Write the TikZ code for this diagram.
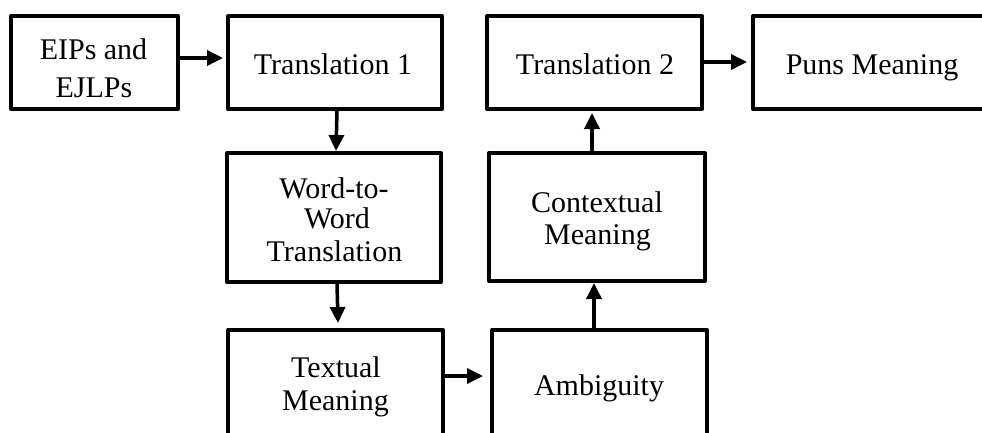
\documentclass[tikz,border=0pt]{standalone}
\usepackage{fontspec}
\setmainfont{Liberation Serif}
\usetikzlibrary{arrows.meta,calc}
\begin{document}
\begin{tikzpicture}[x=1pt,y=-1pt,
  box/.style={draw=black, line width=4pt, line join=round, fill=white, inner sep=0pt},
  lbl/.style={anchor=base, inner sep=0pt, font=\fontsize{30}{36}\selectfont},
  arr/.style={line width=3.5pt, -{Triangle[length=16pt,width=15pt]}}]
\useasboundingbox (0,0) rectangle (982,432);
\clip (0,0) rectangle (982,432);
% boxes
\node[box, minimum width=167pt, minimum height=93pt] (b1) at (94.5,62.5) {};
\node[box, minimum width=214pt, minimum height=93pt] (b2) at (335,62.5) {};
\node[box, minimum width=215pt, minimum height=93pt] (b3) at (594.5,62.5) {};
\node[box, minimum width=239pt, minimum height=93pt] (b4) at (872.5,62.5) {};
\node[box, minimum width=214pt, minimum height=129pt] (b5) at (334,217.5) {};
\node[box, minimum width=215pt, minimum height=125pt] (b6) at (335.5,392.5) {};
\node[box, minimum width=215pt, minimum height=125pt] (b7) at (599.5,392.5) {};
\node[box, minimum width=216pt, minimum height=128pt] (b8) at (597,217) {};
% texts
\node[lbl] (t1a) at (93.5,59) {EIPs and};
\node[lbl] (t1b) at (94,97) {EJLPs};
\node[lbl] (t2) at (333,74) {Translation 1};
\node[lbl] (t3) at (595,74) {Translation 2};
\node[lbl] (t4) at (872,74) {Puns Meaning};
\node[lbl] (t5a) at (334,198) {Word-to-};
\node[lbl] (t5b) at (337,228) {Word};
\node[lbl] (t5c) at (334.5,261) {Translation};
\node[lbl] (t6a) at (336,377) {Textual};
\node[lbl] (t6b) at (335.5,410) {Meaning};
\node[lbl] (t7) at (599,395) {Ambiguity};
\node[lbl] (t8a) at (597,212) {Contextual};
\node[lbl] (t8b) at (597.5,244) {Meaning};
% connectors
\draw[arr] ([yshift=4.5pt]b1.east) -- ([yshift=4.5pt,xshift=-3pt]b2.west);
\draw[arr] ([xshift=2pt]b2.south) -- ([xshift=2pt]b5.north);
\draw[arr] ([xshift=3pt]b5.south) -- ([xshift=2.5pt,yshift=5pt]b6.north);
\draw[arr] ([yshift=16.5pt]b6.east) -- ([yshift=16.5pt,xshift=-7pt]b7.west);
\draw[arr] ([xshift=-5.5pt]b7.north) -- ([xshift=-3pt]b8.south);
\draw[arr] ([xshift=-5pt]b8.north) -- ([xshift=-2.5pt,yshift=-2pt]b3.south);
\draw[arr] ([yshift=0.5pt]b3.east) -- ([yshift=0.5pt,xshift=-4pt]b4.west);
\end{tikzpicture}
\end{document}
